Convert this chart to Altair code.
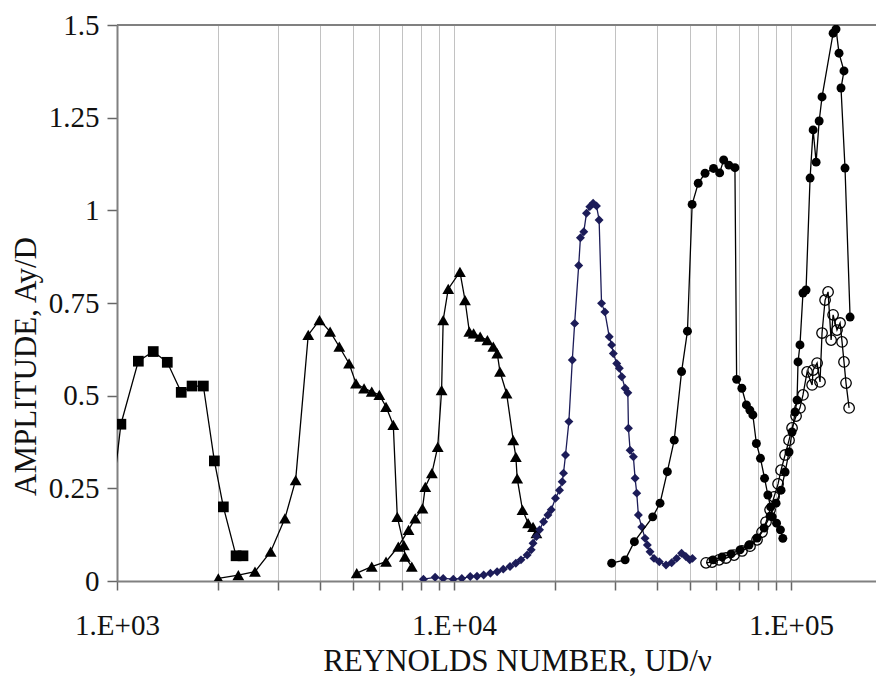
import altair as alt
import pandas as pd

# ---- data (Reynolds number, amplitude Ay/D) ----
sq_re = [953, 1027, 1157, 1281, 1410, 1551, 1670, 1804, 1945, 2068, 2256, 2365]
sq_amp = [0.17, 0.423, 0.593, 0.619, 0.59, 0.509, 0.526, 0.526, 0.324, 0.200, 0.068, 0.068]

tri1_re = [1998, 2291, 2567, 2857, 3150, 3389, 3694, 3989, 4289, 4567, 4882, 5119, 5408,
           5700, 6003, 6285, 6604, 6787, 7101, 7150, 7493]
tri1_amp = [0.007, 0.016, 0.025, 0.079, 0.169, 0.272, 0.664, 0.704, 0.673, 0.632, 0.587,
            0.533, 0.520, 0.511, 0.502, 0.470, 0.421, 0.173, 0.097, 0.066, 0.039]

tri2_re = [5144, 5700, 6285, 6834, 7330, 7672, 8060, 8218, 8597, 8947, 9187, 9286, 9614,
           10413, 10781, 11103, 11432, 11957, 12561, 13077, 13436, 13688, 14321, 14986,
           15259, 15397, 15966, 16587, 17160, 17560]
tri2_amp = [0.021, 0.039, 0.052, 0.093, 0.138, 0.169, 0.196, 0.254, 0.291, 0.362, 0.515,
            0.704, 0.788, 0.834, 0.758, 0.673, 0.668, 0.659, 0.650, 0.632, 0.614, 0.565,
            0.506, 0.380, 0.335, 0.277, 0.192, 0.156, 0.146, 0.129]

dia_re = [8114, 8790, 9286, 9953, 10546, 11173, 11700, 12246, 12823, 13425, 14001, 14661,
          15253, 15802, 16480, 16944, 17160, 17560, 17940, 18440, 18990, 19430, 20000,
          20560, 20940, 21130, 21420, 21920, 22440, 22800, 23440, 23720, 24270, 24720,
          25290, 25870, 26470, 26950, 27400, 28030, 28880, 29360, 29700, 30390, 30940,
          31460, 32190, 32790, 32930, 33300, 34060, 34460, 34850, 35240, 36060, 36880,
          37470, 38160, 39210, 40660, 42570, 44230, 45750, 47340, 48730, 50060, 50990]
dia_amp = [0.005, 0.010, 0.007, 0.005, 0.007, 0.012, 0.013, 0.016, 0.021, 0.025, 0.032,
           0.039, 0.048, 0.057, 0.070, 0.084, 0.102, 0.120, 0.138, 0.160, 0.178, 0.192,
           0.223, 0.245, 0.268, 0.291, 0.340, 0.430, 0.596, 0.695, 0.851, 0.926, 0.942,
           0.992, 1.010, 1.019, 1.012, 0.974, 0.749, 0.726, 0.659, 0.637, 0.614, 0.587,
           0.574, 0.551, 0.520, 0.508, 0.412, 0.353, 0.335, 0.277, 0.237, 0.178, 0.146,
           0.115, 0.097, 0.079, 0.061, 0.052, 0.043, 0.049, 0.061, 0.075, 0.066, 0.057, 0.061]

circ1_re = [29360, 32190, 34290, 38870, 40860, 42950, 45020, 47340, 49280, 50880, 53040,
            55580, 58880, 61400, 63120, 65380, 68160, 68960, 71460, 73710, 75480, 77030,
            78920, 81150, 83460, 85370, 86970, 87980, 90580, 93020, 94550]
circ1_amp = [0.048, 0.057, 0.106, 0.173, 0.210, 0.295, 0.380, 0.565, 0.674, 1.016, 1.073,
             1.100, 1.113, 1.101, 1.136, 1.122, 1.115, 0.544, 0.520, 0.475, 0.461, 0.448,
             0.371, 0.331, 0.277, 0.232, 0.200, 0.173, 0.156, 0.138, 0.115]

circ2_re = [58700, 62420, 66370, 70590, 75050, 79270, 83180, 86660, 90290, 93400, 96020,
            98650, 100700, 102800, 104200, 104900, 106300, 108500, 110800, 113900, 116300,
            118700, 121200, 123600, 133300, 136000, 138800, 143600, 140700, 144600, 149700]
circ2_amp = [0.057, 0.065, 0.073, 0.084, 0.097, 0.116, 0.143, 0.175, 0.210, 0.245, 0.294,
             0.348, 0.402, 0.456, 0.488, 0.591, 0.637, 0.777, 0.785, 1.087, 1.217, 1.130,
             1.241, 1.306, 1.478, 1.489, 1.424, 1.376, 1.330, 1.114, 0.712]

open_re = [55950, 58300, 61160, 64140, 67750, 71540, 75560, 79270, 82030, 84300, 86660,
           89060, 91520, 93400, 96020, 98650, 100700, 103500, 106300, 108500, 111600,
           115500, 116300, 119500, 121900, 123600, 126200, 128800, 131500, 133300, 136900,
           139800, 141700, 143600, 145600, 148700]
open_amp = [0.049, 0.051, 0.057, 0.062, 0.070, 0.081, 0.094, 0.111, 0.132, 0.159, 0.192,
            0.227, 0.262, 0.299, 0.340, 0.380, 0.413, 0.445, 0.467, 0.502, 0.564, 0.529,
            0.569, 0.588, 0.537, 0.669, 0.758, 0.780, 0.650, 0.718, 0.677, 0.696, 0.645,
            0.591, 0.534, 0.467]

x_ticks = [1000, 2000, 3000, 4000, 5000, 6000, 7000, 8000, 9000,
           10000, 20000, 30000, 40000, 50000, 60000, 70000, 80000, 90000, 100000]
y_ticks = [0, 0.25, 0.5, 0.75, 1, 1.25, 1.5]
x_title = "REYNOLDS NUMBER, UD/ν"
y_title = "AMPLITUDE, Ay/D"

NAVY = "#1c1c58"
FONT = "Liberation Serif"

xscale = alt.Scale(type="log", domain=[1000, 178700], nice=False)
yscale = alt.Scale(domain=[0, 1.5], nice=False)

x_axis = alt.Axis(
    values=x_ticks, grid=True, gridColor="#c2c2c2", gridWidth=1,
    labelExpr="datum.value == 1000 ? '1.E+03' : datum.value == 10000 ? '1.E+04' : datum.value == 100000 ? '1.E+05' : ''",
    labelOverlap=False, labelFlush=False, tickSize=9, labelPadding=21,
    title=x_title, titleX=400, titleY=89, titleAlign="center", titleBaseline="alphabetic",
)
y_axis = alt.Axis(
    values=y_ticks, labelExpr="'' + datum.value", grid=False, tickSize=10, labelPadding=8,
    labelOverlap=False,
    title=y_title, titleX=-82, titleY=341, titleAngle=270, titleAlign="center",
    titleBaseline="alphabetic",
)


def frame(re, amp):
    return pd.DataFrame({"re": re, "amp": amp, "i": list(range(len(re)))})


def series(re, amp, color, shape, size, filled, stroke_w=1.0):
    base = alt.Chart(frame(re, amp)).encode(
        x=alt.X("re:Q", scale=xscale, axis=x_axis),
        y=alt.Y("amp:Q", scale=yscale, axis=y_axis),
        order=alt.Order("i:Q"),
    )
    line = base.mark_line(color=color, strokeWidth=1.3, clip=True)
    pts = base.mark_point(shape=shape, size=size, filled=filled, color=color,
                          opacity=1, strokeWidth=stroke_w, clip=True)
    return [line, pts]


layers = []
top_rule = alt.Chart(pd.DataFrame({"v": [1.5]})).mark_rule(
    color="#808080", strokeWidth=2).encode(y=alt.Y("v:Q", scale=yscale, axis=y_axis))
layers.append(top_rule)
layers += series(sq_re, sq_amp, "black", "square", 115, True)
layers += series(tri1_re, tri1_amp, "black", "triangle-up", 140, True)
layers += series(tri2_re, tri2_amp, "black", "triangle-up", 140, True)
layers += series(dia_re, dia_amp, NAVY, "diamond", 80, True)
layers += series(circ1_re, circ1_amp, "black", "circle", 80, True)
layers += series(open_re, open_amp, "black", "circle", 110, False, 1.3)
layers += series(circ2_re, circ2_amp, "black", "circle", 80, True)

chart = alt.layer(*layers).properties(
    width=759, height=556,
    autosize=alt.AutoSizeParams(type="none"),
    padding={"left": 109, "top": 17, "right": 0, "bottom": 96},
).configure_view(stroke=None).configure_axis(
    domainColor="#808080", domainWidth=2,
    tickColor="#666666", tickWidth=1.5,
    labelFont=FONT, labelFontSize=29, labelColor="#111111",
    titleFont=FONT, titleFontSize=31, titleFontWeight="normal", titleColor="#111111",
)

chart.save("out.html", embed_options={"renderer": "svg", "actions": False})
